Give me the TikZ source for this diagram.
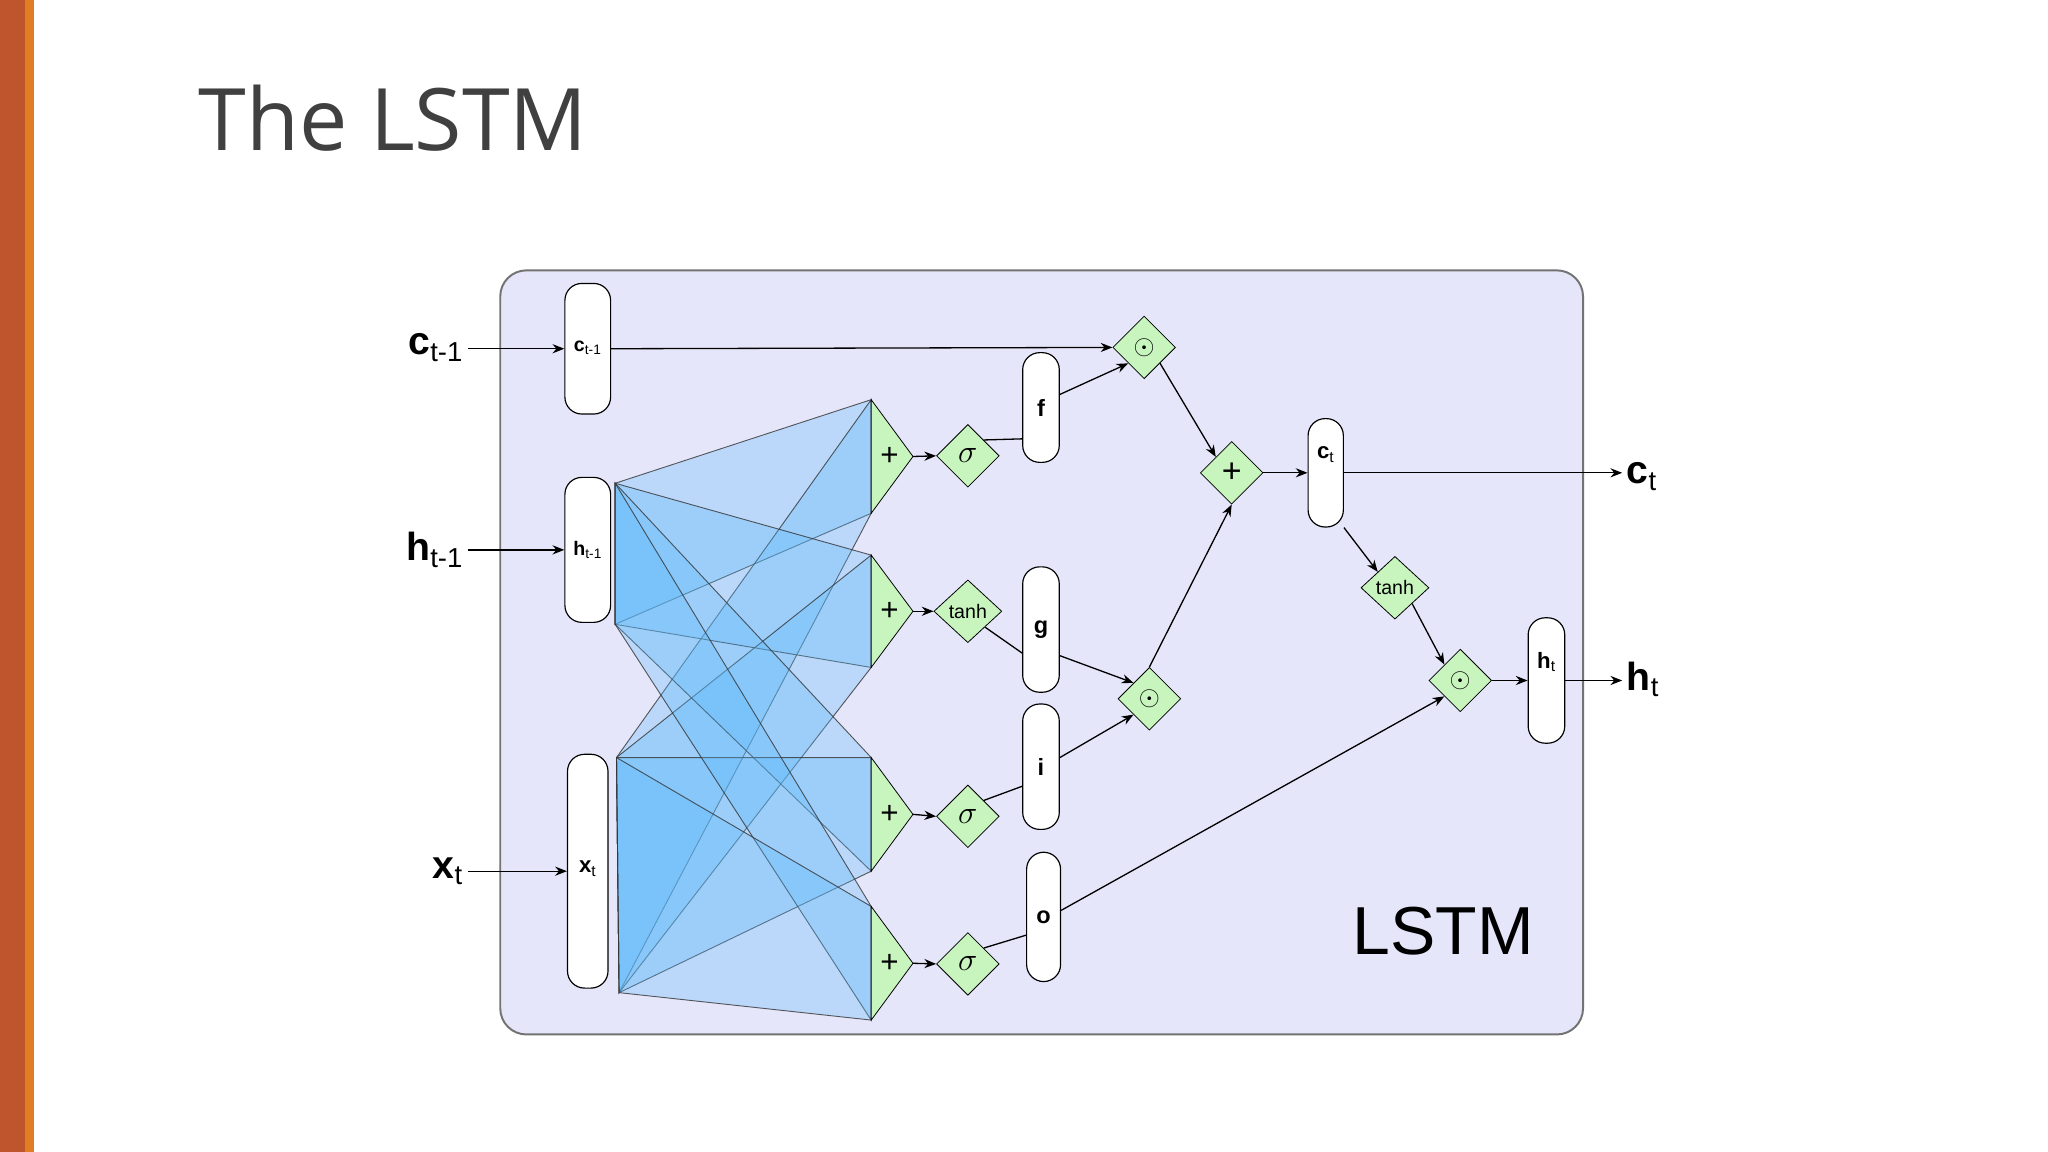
\documentclass[tikz,border=0pt]{standalone}
\usepackage{fontspec}
\setmainfont{Liberation Sans}
\newfontfamily\titlefont{Open Sans}
\usetikzlibrary{shapes.geometric,arrows.meta}
\definecolor{lav}{RGB}{230,230,250}
\definecolor{gr}{RGB}{200,245,190}
\definecolor{fanblue}{RGB}{90,185,250}
\definecolor{barA}{RGB}{190,85,45}
\definecolor{barB}{RGB}{225,125,35}
\definecolor{titlec}{RGB}{64,64,64}
\newcommand{\sbs}[1]{\textsubscript{\mdseries #1}}
\begin{document}
\begin{tikzpicture}[x=1pt,y=-1pt,
  pill/.style={draw,fill=white,rounded corners=13,line width=0.9,inner sep=0,font=\fontsize{18}{18}\selectfont\bfseries},
  dia/.style={diamond,draw,fill=gr,inner sep=0,minimum width=48,minimum height=48,line width=0.6},
  arr/.style={-{Stealth[length=9,width=7]},line width=1},
  ln/.style={line width=1},
  quad/.style={fill=fanblue,fill opacity=0.3,draw=black!80,draw opacity=0.8,line width=0.7},
  big/.style={font=\fontsize{30}{30}\selectfont\bfseries}]
\useasboundingbox (0,0) rectangle (1568,882);
\fill[white] (0,0) rectangle (1568,882);
\fill[barA] (0,0) rectangle (19,882);
\fill[barB] (19,0) rectangle (26,882);
\node[anchor=base west,inner sep=0,text=titlec] (title) at (152,115) {\titlefont\fontsize{66}{66}\selectfont The LSTM};
% box
\draw[fill=lav,draw=black!55,line width=1.5,rounded corners=20] (383,207) rectangle (1212,792);
\node[font=\fontsize{52}{52}\selectfont] (lstm) at (1105,713) {LSTM};
% fan
\coordinate (hs1) at (471,370); \coordinate (hs2) at (471,478);
\coordinate (xs1) at (472,580); \coordinate (xs2) at (474,760);
\foreach \a/\b in {306/393,425/511,580/667,694/781}{
  \path[quad] (hs1) -- (667,\a) -- (667,\b) -- (hs2) -- cycle;
  \path[quad] (xs1) -- (667,\a) -- (667,\b) -- (xs2) -- cycle;
}
% plus triangles
\foreach \n/\a/\b in {p1/306/393,p2/425/511,p3/580/667,p4/694/781}{
  \draw[fill=gr,line width=0.6] (667,\a) -- (699,{(\a+\b)/2}) -- (667,\b) -- cycle;
  \node[font=\fontsize{24}{24}\selectfont] (\n) at (681,{(\a+\b)/2}) {+};
  \coordinate (\n r) at (699,{(\a+\b)/2});
}
% pills
\node[pill,minimum width=35,minimum height=100] (cp) at (450,267) {};
\node[pill,minimum width=35,minimum height=111] (hp) at (450,421) {};
\node[pill,minimum width=31,minimum height=179] (xp) at (450,667) {};
\node[pill,minimum width=28,minimum height=84] (f) at (797,312) {f};
\node[pill,minimum width=28,minimum height=96] (g) at (797,482) {g};
\node[pill,minimum width=28,minimum height=96] (i) at (797,587) {i};
\node[pill,minimum width=26,minimum height=99] (o) at (799,702) {o};
\node[pill,minimum width=27,minimum height=83] (ct) at (1015,362) {};
\node[pill,minimum width=28,minimum height=96] (ht) at (1184,521) {};
\node[font=\fontsize{15}{15}\selectfont\bfseries] at (450,266) {c\sbs{t-1}};
\node[font=\fontsize{15}{15}\selectfont\bfseries] at (450,421) {h\sbs{t-1}};
\node[font=\fontsize{17}{17}\selectfont\bfseries] at (450,665) {x\sbs{t}};
\node[font=\fontsize{17}{17}\selectfont\bfseries] at (1015,348) {c\sbs{t}};
\node[font=\fontsize{17}{17}\selectfont\bfseries] at (1184,507) {h\sbs{t}};
% diamonds
\node[dia,font=\fontsize{28}{28}\selectfont] (s1) at (741,349) {$\sigma$};
\node[dia,font=\fontsize{15}{15}\selectfont,minimum width=52] (t1) at (741,468) {tanh};
\node[dia,font=\fontsize{28}{28}\selectfont] (s3) at (741,625) {$\sigma$};
\node[dia,font=\fontsize{28}{28}\selectfont] (s4) at (741,738) {$\sigma$};
\node[dia,font=\fontsize{20}{20}\selectfont] (m1) at (876,266) {$\odot$};
\node[dia,font=\fontsize{20}{20}\selectfont] (m2) at (880,535) {$\odot$};
\node[dia,font=\fontsize{20}{20}\selectfont] (m3) at (1118,521) {$\odot$};
\node[dia,font=\fontsize{26}{26}\selectfont] (pl) at (943,362) {+};
\node[dia,font=\fontsize{15}{15}\selectfont,minimum width=52] (t2) at (1068,450) {tanh};
% outside labels
\node[big,anchor=east] (lc) at (358,266) {c\sbs{t-1}};
\node[big,anchor=east] (lh) at (358,421) {h\sbs{t-1}};
\node[big,anchor=east] (lx) at (358,667) {x\sbs{t}};
\node[big,anchor=west] (lct) at (1242,365) {c\sbs{t}};
\node[big,anchor=west] (lht) at (1242,520) {h\sbs{t}};
% connectors
\draw[arr] (lc.east |- cp) -- (cp.west);
\draw[arr] (cp.east) -- (m1.west);
\draw[arr] (lh.east |- hp) -- (hp.west);
\draw[arr] (lx.east |- xp) -- (xp.west);
\draw[arr] (p1r) -- (s1.west);
\draw[arr] (p2r) -- (t1.west);
\draw[arr] (p3r) -- (s3.west);
\draw[arr] (p4r) -- (s4.west);
\draw[ln] (s1.north east) -- (f.west |- 0,336);
\draw[ln] (t1.south east) -- (g.west |- 0,500);
\draw[ln] (s3.north east) -- (i.west |- 0,602);
\draw[ln] (s4.north east) -- (o.west |- 0,716);
\draw[arr] (f.east |- 0,302) -- (m1.south west);
\draw[arr] (g.east |- 0,502) -- (m2.north west);
\draw[arr] (i.east |- 0,580) -- (m2.south west);
\draw[arr] (o.east |- 0,697) -- (m3.south west);
\draw[arr] (m1.south east) -- (pl.north west);
\draw[arr] (m2.north) -- (pl.south);
\draw[arr] (pl.east) -- (ct.west |- pl);
\draw[arr] (ct.east |- 0,362) -- (lct.west |- 0,362);
\draw[arr] (ct.south east) -- (t2.north west);
\draw[arr] (t2.south east) -- (m3.north west);
\draw[arr] (m3.east) -- (ht.west |- m3);
\draw[arr] (ht.east |- 0,521) -- (lht.west |- 0,521);
\end{tikzpicture}
\end{document}
